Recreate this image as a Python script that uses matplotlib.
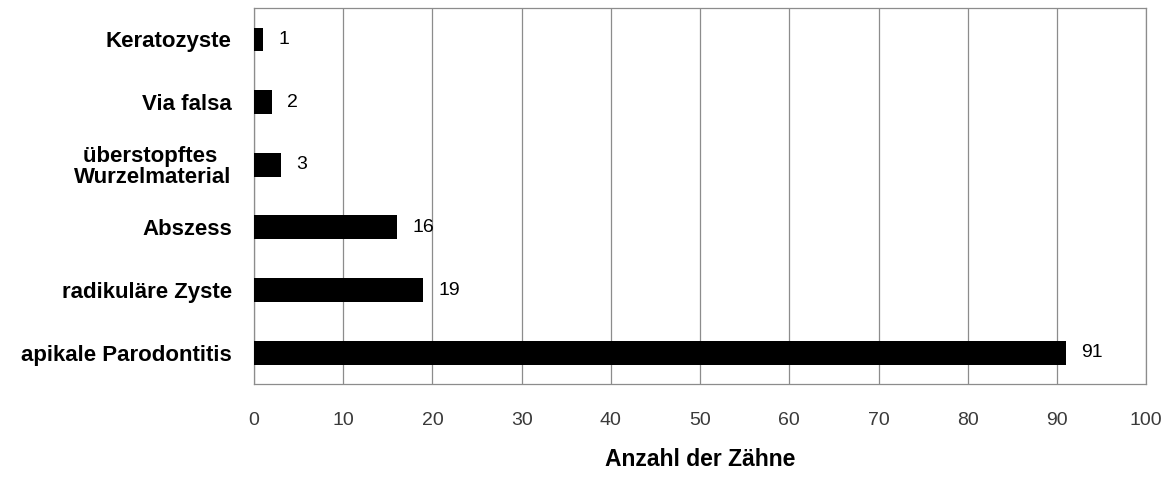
import matplotlib

matplotlib.use("Agg")
import matplotlib.pyplot as plt
import numpy as np

categories = ["apikale Parodontitis", "radikuläre Zyste", "Abszess",
              "überstopftes \nWurzelmaterial", "Via falsa", "Keratozyste"]
counts = [91, 19, 16, 3, 2, 1]
x_ticks = list(range(0, 101, 10))

plt.rcParams["font.family"] = ["Liberation Sans", "DejaVu Sans"]

fig = plt.figure(figsize=(11.72, 4.8), dpi=100)
ax = fig.add_axes([0.2167, 0.2, 0.7613, 0.783])

yp = np.arange(len(categories))
ax.barh(yp, counts, height=0.38, color="black", zorder=3)
# value labels just right of each bar
for y, v in zip(yp, counts):
    ax.annotate(str(v), (v, y), xytext=(11, 0), textcoords="offset points",
                va="center", ha="left", fontsize=14, color="black")

ax.set_xlim(0, 100)
ax.set_ylim(-0.5, len(categories) - 0.5)
ax.set_xticks(x_ticks)
ax.set_yticks(yp)
ax.set_yticklabels(categories, fontsize=16, fontweight="bold")
ax.tick_params(axis="both", length=0)
ax.tick_params(axis="x", pad=20, labelsize=14, labelcolor="#3a3a3a")
ax.tick_params(axis="y", pad=16)
for t in ax.get_yticklabels():
    t.set_multialignment("center")
    t.set_linespacing(1.0)

ax.grid(axis="x", color="#8c8c8c", linewidth=0.9, zorder=0)
for s in ax.spines.values():
    s.set_color("#8c8c8c")
    s.set_linewidth(0.9)

ax.set_xlabel("Anzahl der Zähne", fontsize=16.5, fontweight="bold", labelpad=14)

fig.savefig("out.png", dpi=100)
